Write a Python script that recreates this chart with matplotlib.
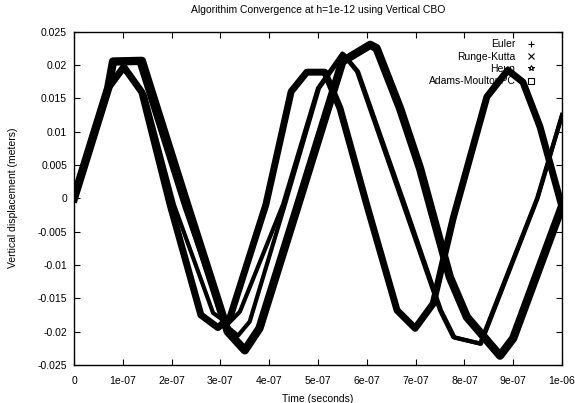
"""
algorithm convergence plot, gnuplot style
"""

import matplotlib
matplotlib.use("Agg")
import matplotlib.pyplot as plt
from matplotlib.lines import Line2D
from matplotlib.ticker import FuncFormatter, MultipleLocator

plt.rcParams['font.family'] = ['Liberation Sans', 'DejaVu Sans']
plt.rcParams['font.size'] = 7.5

# times in units of 1e-7 s, displacement in meters
heun_t = [0, 0.7, 1.02, 1.39, 1.97, 2.6, 2.95, 3.2, 3.93, 4.45, 4.77, 5.14, 5.45, 6.0, 6.62, 6.99, 7.36, 7.77, 8.46, 8.89, 9.2, 9.55, 10.0]
heun_v = [0, 0.0165, 0.0197, 0.0159, -0.001, -0.0175, -0.0194, -0.0178, -0.001, 0.016, 0.0189, 0.0189, 0.0135, -0.001, -0.0168, -0.0195, -0.0158, -0.003, 0.0152, 0.0192, 0.0174, 0.0107, -0.0013]

am_t = [0, 0.7, 0.8, 1.39, 2.32, 3.15, 3.5, 3.8, 4.59, 5.5, 6.07, 6.2, 6.68, 7.09, 7.7, 8.05, 8.73, 9.0, 10.0]
am_v = [0, 0.0165, 0.0205, 0.0206, -0.001, -0.020, -0.0228, -0.0195, -0.001, 0.0205, 0.023, 0.0225, 0.0135, 0.0045, -0.0118, -0.0178, -0.0236, -0.021, -0.0012]

euler_t = [0, 0.7, 1.02, 1.45, 2.05, 2.85, 3.16, 3.4, 4.28, 5.0, 5.5, 5.8, 6.75, 7.5, 7.77, 8.32, 9.49, 10.0]
euler_v = [0, 0.0165, 0.0193, 0.0155, -0.001, -0.0172, -0.0188, -0.017, -0.001, 0.0165, 0.0217, 0.019, -0.001, -0.0168, -0.0208, -0.0218, 0.0, 0.0125]

rk_t = [0, 0.7, 0.82, 1.33, 2.25, 3.1, 3.36, 3.6, 4.32, 5.02, 5.52, 5.82, 6.78, 7.52, 7.8, 8.34, 9.5, 10.0]
rk_v = [0, 0.0165, 0.0203, 0.0203, -0.001, -0.019, -0.0206, -0.0185, -0.001, 0.0165, 0.0216, 0.019, -0.001, -0.0168, -0.0209, -0.0218, 0.0, 0.0124]

labels = ['Euler', 'Runge-Kutta', 'Heun', 'Adams-MoultonPC']
markers = ['+', 'x', '*', 's']

fig = plt.figure(figsize=(5.75, 4.03), dpi=100)
ax = fig.add_axes([74/575, 38/403, 488/575, 333.5/403])

scale = 1e-7
ax.plot([t*scale for t in euler_t], euler_v, color='k', lw=3, zorder=3, solid_joinstyle='round')
ax.plot([t*scale for t in rk_t], rk_v, color='k', lw=3, zorder=3, solid_joinstyle='round')
ax.plot([t*scale for t in heun_t], heun_v, color='k', lw=5, zorder=3, solid_joinstyle='round')
ax.plot([t*scale for t in am_t], am_v, color='k', lw=6, zorder=3, solid_joinstyle='round')

ax.set_xlim(0, 1e-6)
ax.set_ylim(-0.025, 0.025)
ax.xaxis.set_major_locator(MultipleLocator(1e-7))
ax.yaxis.set_major_locator(MultipleLocator(0.005))
ax.xaxis.set_major_formatter(FuncFormatter(lambda v, p: '%g' % (round(v, 12) + 0.0)))
ax.yaxis.set_major_formatter(FuncFormatter(lambda v, p: '%g' % (round(v, 6) + 0.0)))
ax.tick_params(direction='in', top=True, right=True, length=4, width=0.8, pad=5)
ax.tick_params(axis='x', pad=8)
for s in ax.spines.values():
    s.set_linewidth(1.0)

ax.set_title('Algorithim Convergence at h=1e-12 using Vertical CBO', fontsize=7.5, pad=13)
ax.set_xlabel('Time (seconds)', labelpad=6)
ax.set_ylabel('Vertical displacement (meters)', labelpad=14)

handles = [Line2D([], [], color='k', marker=m, linestyle='none', markersize=4,
                  markerfacecolor='none', markeredgewidth=0.8) for m in markers]
leg = ax.legend(handles, labels, loc='upper right', bbox_to_anchor=(0.96, 0.995),
                markerfirst=False, frameon=False, handlelength=1, handletextpad=1.0,
                labelspacing=0.22, borderaxespad=0.2)
leg.set_zorder(1)

fig.savefig('out.png', dpi=100)
